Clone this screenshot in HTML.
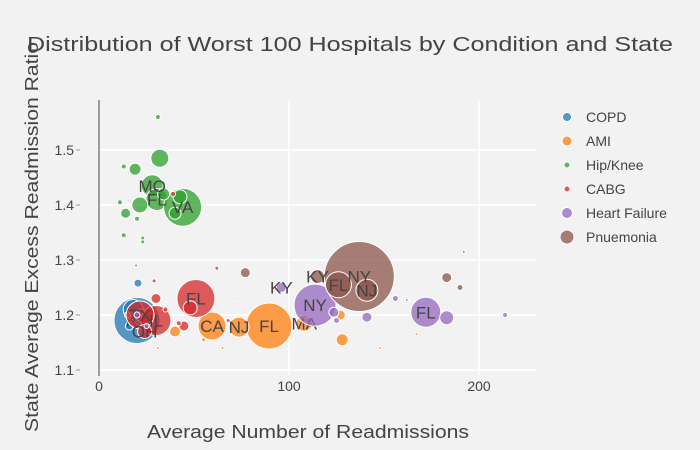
<!DOCTYPE html>
<html><head><meta charset="utf-8"><style>
body{margin:0;background:#f2f2f2;}
svg{display:block;font-family:"Liberation Sans",sans-serif;}
</style></head><body>
<svg id="c" width="700" height="450" viewBox="0 0 700 450">
<rect width="700" height="450" fill="#f2f2f2"/>
<g id="grid"></g>
<g id="axes"></g>
<g id="marks"></g>
<text x="350" y="51" text-anchor="middle" font-size="20" fill="#444" textLength="646" lengthAdjust="spacingAndGlyphs">Distribution of Worst 100 Hospitals by Condition and State</text>
<text x="308" y="438" text-anchor="middle" font-size="18" fill="#444" textLength="322" lengthAdjust="spacingAndGlyphs">Average Number of Readmissions</text>
<text transform="translate(38,237) rotate(-90)" text-anchor="middle" font-size="18" fill="#444" textLength="390" lengthAdjust="spacingAndGlyphs">State Average Excess Readmission Ratio</text>
<g id="legend"></g>
</svg>
<script>
const xTicks=[0,100,200];
const yTicks=[1.1,1.2,1.3,1.4,1.5];
const yTickLabels=["1.1","1.2","1.3","1.4","1.5"];
const seriesNames=["COPD","AMI","Hip/Knee","CABG","Heart Failure","Pnuemonia"];
const seriesColors=["#1f77b4","#ff7f0e","#2ca02c","#d62728","#9467bd","#8c564b"];
const copdX=[20,20.5,19.5,18,22,16];
const copdY=[1.19,1.258,1.29,1.21,1.2,1.18];
const copdS=[46,8,3,20,12,8];
const copdL=["KY","","","","",""];
const amiX=[89.5,59.5,73.7,108,40,31,65,55,128,148,167,127,15,110];
const amiY=[1.18,1.18,1.178,1.185,1.17,1.14,1.14,1.155,1.155,1.14,1.165,1.2,1.2,1.19];
const amiS=[46,28,20,16,11,3,3,4,12,3,3,10,6,6];
const amiL=["FL","CA","NJ","MA","","","","","","","","","",""];
const hipX=[31,32,13,19,28,30.5,44,21.5,14,11,20,42.6,40,13,23,23,34];
const hipY=[1.56,1.485,1.47,1.465,1.435,1.41,1.396,1.4,1.385,1.405,1.375,1.415,1.385,1.345,1.34,1.333,1.42];
const hipS=[5,18,5,12,22,22,38,16,10,5,5,14,12,5,4,4,12];
const hipL=["","","","","MO","FL","VA","","","","","","","","","",""];
const cabgX=[51,30,21.6,30,29,44.7,35,42,68,71,48,39,62,24];
const cabgY=[1.23,1.19,1.2,1.23,1.262,1.18,1.21,1.185,1.19,1.23,1.213,1.42,1.285,1.17];
const cabgS=[38,30,28,10,4,10,5,5,4,2,14,5,4,14];
const cabgL=["FL","IL","TX","","","","","","","","","","","OH"];
const hfX=[113.7,172,183,213.7,96,156,162,141,123.6,125,20,25];
const hfY=[1.218,1.205,1.195,1.2,1.25,1.23,1.227,1.196,1.205,1.19,1.2,1.18];
const hfS=[42,30,14,5,10,6,3,10,10,6,6,5];
const hfL=["NY","FL","","","KY","","","","","","",""];
const pnX=[137,126,141,115,183,190,192,77];
const pnY=[1.27,1.255,1.245,1.27,1.268,1.25,1.315,1.277];
const pnS=[70,26,22,14,10,6,3,10];
const pnL=["NY","FL","NJ","KY","","","",""];
const allSeries=[[copdX,copdY,copdS,copdL],[amiX,amiY,amiS,amiL],[hipX,hipY,hipS,hipL],[cabgX,cabgY,cabgS,cabgL],[hfX,hfY,hfS,hfL],[pnX,pnY,pnS,pnL]];

const NS="http://www.w3.org/2000/svg";
const X0=99,X1=537,Y0=100,Y1=375;
function xs(v){return 99+v*1.9;}
function ys(v){return 315-(v-1.2)*550;}
function mk(t,a,p){const e=document.createElementNS(NS,t);for(const k in a)e.setAttribute(k,a[k]);p.appendChild(e);return e;}
const grid=document.getElementById('grid'),axes=document.getElementById('axes'),marks=document.getElementById('marks'),legend=document.getElementById('legend');
yTicks.forEach((t,i)=>{
 const l=mk('line',{x1:X0,x2:X1,y1:ys(t),y2:ys(t),stroke:'#fff','stroke-width':1.5},grid);
 
 
 const tk=mk('line',{x1:76,x2:80,y1:ys(t),y2:ys(t),stroke:'#999'},axes);
 
 
 const tx=mk('text',{x:74,y:ys(t)+5,'text-anchor':'end','font-size':14,fill:'#444'},axes);
 tx.textContent=yTickLabels[i];
 
 
});
xTicks.forEach(t=>{
 if(t>0){const l=mk('line',{x1:xs(t),x2:xs(t),y1:Y0,y2:Y1,stroke:'#fff','stroke-width':1.5},grid);
 
 }
 const tx=mk('text',{x:xs(t),y:391,'text-anchor':'middle','font-size':14,fill:'#444'},axes);
 tx.textContent=String(t);
 
 
});
const al=mk('line',{x1:X0,x2:X0,y1:Y0,y2:Y1,stroke:'#444','stroke-width':1},axes);


const xt=mk('line',{x1:X0,x2:X0,y1:371,y2:376,stroke:'#444'},axes);



allSeries.forEach((s,si)=>{
 const g=mk('g',{},marks);
 
 
 const [X,Y,S,L]=s;
 X.forEach((x,i)=>{
  const c=mk('circle',{cx:xs(x),cy:ys(Y[i]),r:S[i]/2,fill:seriesColors[si],'fill-opacity':0.75,stroke:'#fff','stroke-width':1},g);
  
  
 });
 X.forEach((x,i)=>{
  if(!L[i])return;
  const t=mk('text',{x:xs(x),y:ys(Y[i])+6,'text-anchor':'middle','font-size':17,fill:'#444'},g);
  t.textContent=L[i];
  
  
 });
});

const legSizes=[9,10,6,6,11,14];
seriesNames.forEach((n,i)=>{
 const y=117+i*24;
 const g=mk('g',{},legend);
 
 
 mk('circle',{cx:567,cy:y,r:legSizes[i]/2,fill:seriesColors[i],'fill-opacity':0.75,stroke:'#fff'},g);
 const t=mk('text',{x:586,y:y+5,'font-size':14,fill:'#444'},g);
 t.textContent=n;
});
</script>
</body></html>
